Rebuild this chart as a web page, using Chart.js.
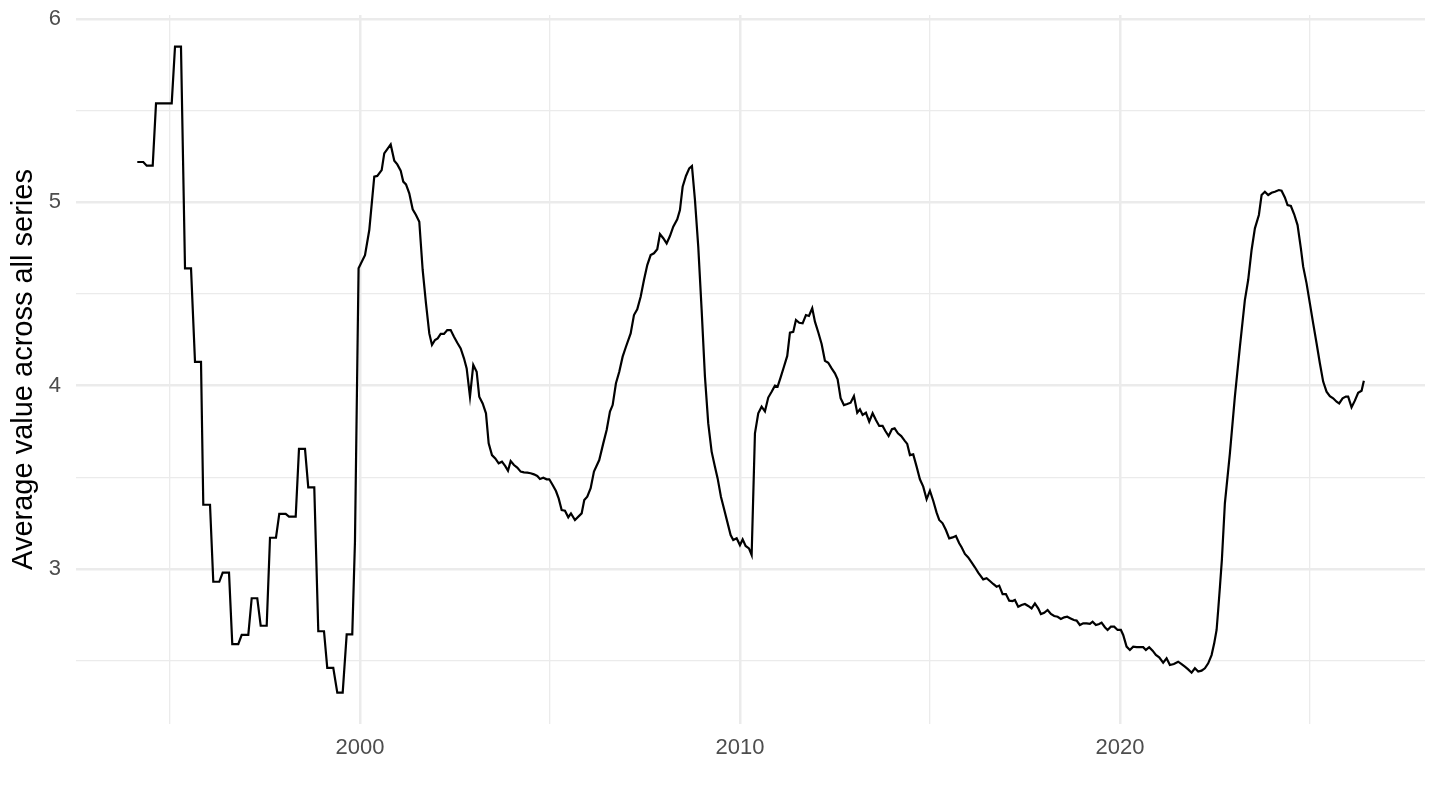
<!DOCTYPE html>
<html>
<head>
<meta charset="utf-8">
<script src="https://cdn.jsdelivr.net/npm/chart.js@4"></script>
<style>
  html, body { margin: 0; padding: 0; background: #ffffff; }
  #avgChart { display: block; }
</style>
</head>
<body>
<canvas id="avgChart" width="1440" height="810"></canvas>
<script>
  // decimal years
  const years = [
    1994.139, 1994.297, 1994.387, 1994.545, 1994.632, 1995.045, 1995.132, 1995.289,
    1995.395, 1995.553, 1995.658, 1995.816, 1995.876, 1996.053, 1996.139, 1996.297,
    1996.387, 1996.553, 1996.639, 1996.797, 1996.887, 1997.061, 1997.150, 1997.297,
    1997.387, 1997.545, 1997.632, 1997.789, 1997.876, 1998.045, 1998.132, 1998.308,
    1998.395, 1998.553, 1998.639, 1998.797, 1998.903, 1999.053, 1999.139, 1999.297,
    1999.403, 1999.545, 1999.650, 1999.797, 1999.868, 1999.963,
    2000.132, 2000.245, 2000.376, 2000.455, 2000.571, 2000.639, 2000.808, 2000.903,
    2000.982, 2001.071, 2001.139, 2001.211, 2001.297, 2001.387, 2001.474, 2001.561,
    2001.650, 2001.737, 2001.824, 2001.895, 2001.974, 2002.045, 2002.124, 2002.211,
    2002.297, 2002.387, 2002.474, 2002.561, 2002.650, 2002.737, 2002.808, 2002.895,
    2002.982, 2003.071, 2003.139, 2003.229, 2003.316, 2003.387, 2003.474, 2003.561,
    2003.650, 2003.737, 2003.824, 2003.895, 2003.966, 2004.053, 2004.139, 2004.229,
    2004.316, 2004.403, 2004.492, 2004.579, 2004.666, 2004.737, 2004.824, 2004.913,
    2004.982, 2005.071, 2005.158, 2005.229, 2005.308, 2005.395, 2005.482, 2005.553,
    2005.658, 2005.834,
    2005.903, 2005.982, 2006.071, 2006.158, 2006.297, 2006.403, 2006.492, 2006.579,
    2006.650, 2006.737, 2006.824, 2006.913, 2007.000, 2007.124, 2007.211, 2007.297,
    2007.387, 2007.474, 2007.561, 2007.650, 2007.737, 2007.824, 2007.895, 2007.982,
    2008.071, 2008.158, 2008.245, 2008.350, 2008.421, 2008.492, 2008.579, 2008.666,
    2008.737, 2008.816, 2008.903, 2008.992, 2009.079, 2009.166, 2009.255, 2009.342,
    2009.413, 2009.500, 2009.579, 2009.666, 2009.755, 2009.824, 2009.913, 2010.000,
    2010.071, 2010.150, 2010.237, 2010.308, 2010.395,
    2010.482, 2010.571, 2010.658, 2010.745, 2010.834, 2010.921, 2010.992, 2011.071,
    2011.158, 2011.245, 2011.316, 2011.403, 2011.474, 2011.561, 2011.650, 2011.737,
    2011.816, 2011.903, 2011.974, 2012.061, 2012.150, 2012.237, 2012.324, 2012.413,
    2012.500, 2012.571, 2012.650, 2012.737, 2012.824, 2012.913, 2013.000, 2013.087,
    2013.158, 2013.229, 2013.316, 2013.403, 2013.492, 2013.579, 2013.666, 2013.755,
    2013.824, 2013.913, 2014.000, 2014.071, 2014.158, 2014.245, 2014.334, 2014.403,
    2014.474, 2014.561, 2014.650, 2014.737, 2014.824, 2014.913, 2015.000, 2015.087,
    2015.176, 2015.245, 2015.334, 2015.421, 2015.508, 2015.597, 2015.684, 2015.771,
    2015.834, 2015.921, 2016.008, 2016.097, 2016.184, 2016.271, 2016.403, 2016.492,
    2016.579, 2016.666, 2016.755, 2016.824, 2016.913, 2017.000, 2017.087, 2017.176,
    2017.237, 2017.324, 2017.413, 2017.500, 2017.587, 2017.676, 2017.763, 2017.850,
    2017.921, 2018.008, 2018.097, 2018.184, 2018.271, 2018.361, 2018.447, 2018.534,
    2018.613, 2018.703, 2018.789, 2018.861, 2018.947, 2019.034, 2019.124, 2019.211,
    2019.282, 2019.368, 2019.455, 2019.518, 2019.605, 2019.676, 2019.763, 2019.850,
    2019.939, 2020.026, 2020.087, 2020.176, 2020.263, 2020.350, 2020.439, 2020.526,
    2020.613, 2020.684, 2020.771, 2020.861, 2020.947, 2021.034, 2021.139, 2021.229,
    2021.316, 2021.421, 2021.534, 2021.624, 2021.711, 2021.797, 2021.887, 2021.974,
    2022.061, 2022.150, 2022.237, 2022.324, 2022.413, 2022.482, 2022.545, 2022.587,
    2022.632, 2022.684, 2022.763, 2022.895, 2023.026, 2023.158, 2023.289, 2023.376,
    2023.466, 2023.553, 2023.658, 2023.729, 2023.816, 2023.903, 2023.992, 2024.079,
    2024.184, 2024.255, 2024.342, 2024.413, 2024.500, 2024.587, 2024.676, 2024.763,
    2024.824, 2024.913, 2025.000, 2025.087, 2025.176, 2025.263, 2025.350, 2025.439,
    2025.526, 2025.613, 2025.703, 2025.771, 2025.861, 2025.947, 2026.008, 2026.097,
    2026.184, 2026.271, 2026.361, 2026.421
  ];

  const avgValues = [
    5.22, 5.22, 5.20, 5.20, 5.54, 5.54, 5.85, 5.85,
    4.64, 4.64, 4.13, 4.13, 3.35, 3.35, 2.93, 2.93,
    2.98, 2.98, 2.59, 2.59, 2.64, 2.64, 2.84, 2.84,
    2.69, 2.69, 3.17, 3.17, 3.30, 3.30, 3.285, 3.285,
    3.655, 3.655, 3.445, 3.445, 2.66, 2.66, 2.46, 2.46,
    2.325, 2.325, 2.643, 2.643, 3.15, 4.64,
    4.712, 4.849, 5.140, 5.144, 5.176, 5.267, 5.316, 5.227,
    5.207, 5.173, 5.113, 5.098, 5.049, 4.962, 4.931, 4.894,
    4.631, 4.449, 4.285, 4.222, 4.249, 4.258, 4.282, 4.282,
    4.303, 4.303, 4.267, 4.234, 4.203, 4.149, 4.094, 3.940,
    4.113, 4.076, 3.940, 3.903, 3.849, 3.685, 3.621, 3.603,
    3.576, 3.585, 3.561, 3.536, 3.589, 3.567, 3.553, 3.531,
    3.527, 3.525, 3.522, 3.516, 3.507, 3.491, 3.498, 3.489,
    3.489, 3.458, 3.425, 3.385, 3.321, 3.318, 3.282, 3.303,
    3.267, 3.303,
    3.376, 3.394, 3.440, 3.531, 3.594, 3.685, 3.758, 3.858,
    3.894, 4.013, 4.076, 4.158, 4.212, 4.285, 4.385, 4.416,
    4.485, 4.576, 4.658, 4.712, 4.722, 4.744, 4.827, 4.804,
    4.776, 4.816, 4.867, 4.907, 4.958, 5.085, 5.144, 5.185,
    5.198, 5.013, 4.758, 4.413, 4.049, 3.794, 3.640, 3.558,
    3.494, 3.394, 3.330, 3.258, 3.185, 3.158, 3.167, 3.130,
    3.161, 3.125, 3.112, 3.076, 3.740,
    3.849, 3.885, 3.860, 3.935, 3.967, 4.000, 3.995, 4.045,
    4.103, 4.162, 4.289, 4.293, 4.358, 4.343, 4.340, 4.385,
    4.380, 4.422, 4.349, 4.291, 4.227, 4.136, 4.125, 4.094,
    4.067, 4.034, 3.931, 3.894, 3.900, 3.907, 3.943, 3.852,
    3.871, 3.840, 3.852, 3.803, 3.849, 3.812, 3.780, 3.780,
    3.754, 3.725, 3.762, 3.767, 3.740, 3.725, 3.700, 3.682,
    3.621, 3.625, 3.558, 3.489, 3.449, 3.380, 3.427, 3.372,
    3.307, 3.267, 3.249, 3.212, 3.167, 3.172, 3.180, 3.140,
    3.118, 3.082, 3.063, 3.036, 3.009, 2.980, 2.943, 2.949,
    2.934, 2.918, 2.903, 2.909, 2.863, 2.863, 2.827, 2.825,
    2.831, 2.794, 2.803, 2.809, 2.798, 2.785, 2.812, 2.785,
    2.754, 2.761, 2.776, 2.754, 2.743, 2.739, 2.727, 2.736,
    2.739, 2.730, 2.721, 2.718, 2.694, 2.703, 2.703, 2.700,
    2.712, 2.694, 2.700, 2.707, 2.682, 2.667, 2.685, 2.685,
    2.667, 2.667, 2.640, 2.576, 2.558, 2.576, 2.573, 2.573,
    2.573, 2.558, 2.573, 2.554, 2.531, 2.518, 2.489, 2.512,
    2.476, 2.481, 2.494, 2.481, 2.467, 2.452, 2.434, 2.458,
    2.440, 2.445, 2.458, 2.485, 2.530, 2.594, 2.667, 2.776,
    2.900, 3.049, 3.358, 3.631, 3.940, 4.212, 4.467, 4.576,
    4.740, 4.858, 4.931, 5.040, 5.058, 5.040, 5.052, 5.058,
    5.067, 5.063, 5.027, 4.985, 4.980, 4.935, 4.876, 4.749,
    4.649, 4.558, 4.449, 4.340, 4.231, 4.122, 4.022, 3.967,
    3.943, 3.931, 3.912, 3.903, 3.931, 3.940, 3.940, 3.882,
    3.918, 3.961, 3.972, 4.027
  ];

  // gridline positions (labels only on the decades and whole numbers)
  const xTickYears = [1995, 2000, 2005, 2010, 2015, 2020, 2025];
  const yTickValues = [2.5, 3, 3.5, 4, 4.5, 5, 5.5, 6];

  const points = years.map((y, i) => ({ x: y, y: avgValues[i] }));

  const tickFont = { family: '"Liberation Sans", Arial, sans-serif', size: 22 };

  const config = {
    type: 'line',
    data: {
      datasets: [{
        data: points,
        borderColor: '#000000',
        borderWidth: 2.2,
        pointRadius: 0,
        tension: 0,
        fill: false
      }]
    },
    options: {
      responsive: false,
      animation: false,
      devicePixelRatio: 1,
      layout: { padding: { top: 15, right: 15, left: 0, bottom: 0 } },
      plugins: {
        legend: { display: false },
        tooltip: { enabled: false }
      },
      scales: {
        x: {
          type: 'linear',
          min: 1992.526,
          max: 2028.03,
          afterBuildTicks: (axis) => {
            axis.ticks = xTickYears.map(v => ({ value: v }));
          },
          afterFit: (scale) => { scale.height = 86; },
          border: { display: false },
          grid: {
            drawTicks: false,
            color: '#EBEBEB',
            lineWidth: (ctx) => (ctx.tick && ctx.tick.value % 10 === 0) ? 2.5 : 1.3
          },
          ticks: {
            padding: 11,
            color: '#4D4D4D',
            font: tickFont,
            maxRotation: 0,
            autoSkip: false,
            callback: (v) => (v % 10 === 0 ? String(v) : '')
          }
        },
        y: {
          type: 'linear',
          min: 2.154,
          max: 6.022,
          afterBuildTicks: (axis) => {
            axis.ticks = yTickValues.map(v => ({ value: v }));
          },
          afterFit: (scale) => {
            scale.width = 76;
            // don't let the edge labels push the plot area in
            scale.paddingTop = 0;
            scale.paddingBottom = 0;
          },
          border: { display: false },
          grid: {
            drawTicks: false,
            color: '#EBEBEB',
            lineWidth: (ctx) => (ctx.tick && Number.isInteger(ctx.tick.value)) ? 2.5 : 1.3
          },
          ticks: {
            padding: 15,
            color: '#4D4D4D',
            font: tickFont,
            autoSkip: false,
            callback: (v) => (Number.isInteger(v) ? String(v) : '')
          },
          title: {
            display: true,
            text: 'Average value across all series',
            color: '#000000',
            font: { family: '"Liberation Sans", Arial, sans-serif', size: 29 },
            padding: { top: 7, bottom: 0 }
          }
        }
      }
    }
  };

  var avgChart = new Chart(
    document.getElementById('avgChart'),
    config
  );
</script>
</body>
</html>
